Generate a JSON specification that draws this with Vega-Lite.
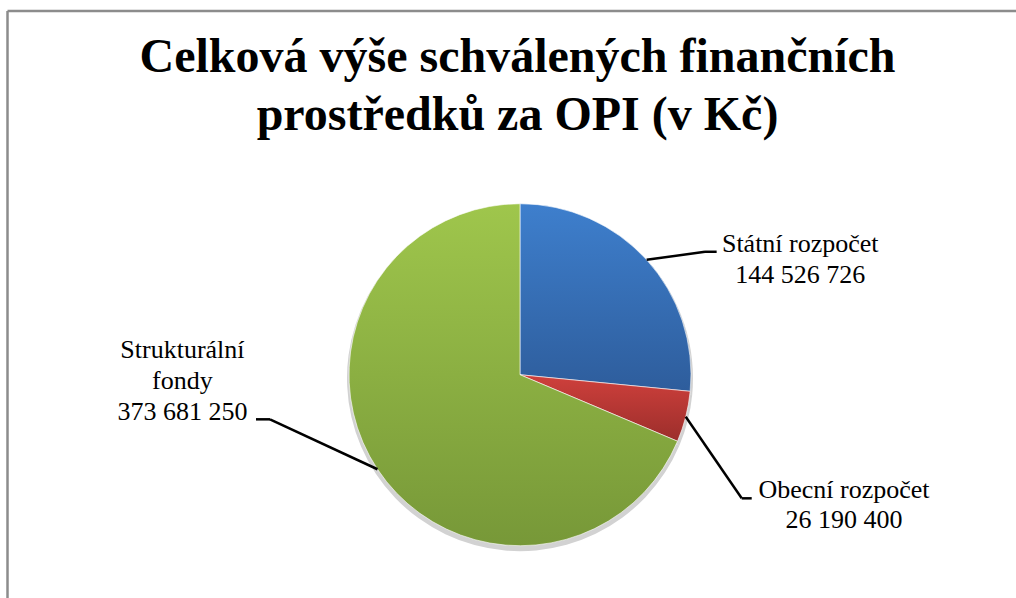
{
  "$schema": "https://vega.github.io/schema/vega-lite/v6.json",
  "width": 1009,
  "height": 587.5,
  "autosize": {"type": "none"},
  "padding": {"left": 7, "top": 10.5, "right": 0, "bottom": 0},
  "background": "#ffffff",
  "title": {
    "text": ["Celková výše schválených finančních", "prostředků za OPI (v Kč)"],
    "font": "Liberation Serif",
    "fontSize": 48,
    "fontWeight": "bold",
    "color": "#000000",
    "lineHeight": 58,
    "anchor": "middle",
    "frame": "group",
    "baseline": "alphabetic",
    "offset": -167,
    "dx": 6
  },
  "data": {
    "values": [
      {"category": "Státní rozpočet", "value": 144526726},
      {"category": "Obecní rozpočet", "value": 26190400},
      {"category": "Strukturální fondy", "value": 373681250}
    ]
  },
  "transform": [
    {"window": [{"op": "row_number", "as": "idx"}, {"op": "sum", "field": "value", "as": "cum"}], "frame": [null, 0]},
    {"joinaggregate": [{"op": "sum", "field": "value", "as": "total"}]},
    {"calculate": "2*PI*(datum.cum - datum.value/2)/datum.total", "as": "mid"},
    {"calculate": "sin(datum.mid)", "as": "sx"},
    {"calculate": "cos(datum.mid)", "as": "sy"},
    {"calculate": "replace(format(datum.value, ','), regexp(',', 'g'), ' ')", "as": "num"},
    {"calculate": "datum.category === 'Strukturální fondy' ? 'Strukturální|fondy|' + datum.num : datum.category + '|' + datum.num", "as": "label"}
  ],
  "layer": [
    {
      "mark": {"type": "arc", "outerRadius": 173, "color": "#d2d2d2"},
      "encoding": {
        "x": {"datum": 0, "type": "quantitative", "scale": {"type": "linear", "domain": [-3, 2.9006], "zero": false, "nice": false}, "axis": {"orient": "top", "title": null}},
        "y": {"datum": -0.02, "type": "quantitative", "scale": {"type": "linear", "domain": [-1.3057, 2.13], "zero": false, "nice": false}, "axis": {"orient": "left", "title": null}},
        "theta": {"field": "value", "type": "quantitative", "stack": true},
        "order": {"field": "idx", "type": "quantitative"},
        "detail": {"field": "category", "type": "nominal"}
      }
    },
    {
      "mark": {"type": "arc", "outerRadius": 171, "stroke": "#ffffff", "strokeWidth": 1, "strokeOpacity": 0.6},
      "encoding": {
        "x": {"datum": 0, "type": "quantitative", "scale": {"type": "linear", "domain": [-3, 2.9006], "zero": false, "nice": false}, "axis": {"orient": "top", "title": null}},
        "y": {"datum": 0, "type": "quantitative", "scale": {"type": "linear", "domain": [-1.3057, 2.13], "zero": false, "nice": false}, "axis": {"orient": "left", "title": null}},
        "theta": {"field": "value", "type": "quantitative", "stack": true},
        "order": {"field": "idx", "type": "quantitative"},
        "detail": {"field": "category", "type": "nominal"},
        "color": {
          "condition": [
            {"test": "datum.category === 'Státní rozpočet'", "value": {"gradient": "linear", "x1": 0, "y1": 0, "x2": 0, "y2": 1, "stops": [{"offset": 0, "color": "#3e7fcd"}, {"offset": 1, "color": "#2e5d9c"}]}},
            {"test": "datum.category === 'Obecní rozpočet'", "value": {"gradient": "linear", "x1": 0, "y1": 0, "x2": 0, "y2": 1, "stops": [{"offset": 0, "color": "#cf403c"}, {"offset": 1, "color": "#9c2e2b"}]}}
          ],
          "value": {"gradient": "linear", "x1": 0, "y1": 0, "x2": 0, "y2": 1, "stops": [{"offset": 0, "color": "#9fc64c"}, {"offset": 1, "color": "#779838"}]}
        }
      }
    },
    {
      "transform": [{"filter": "datum.category === 'Státní rozpočet'"}],
      "layer": [
        {
          "mark": {"type": "rule", "color": "#000000", "strokeWidth": 2.5},
          "encoding": {
            "x": {"field": "sx", "type": "quantitative", "scale": {"type": "linear", "domain": [-3, 2.9006], "zero": false, "nice": false}, "axis": {"orient": "top", "title": null}},
            "y": {"field": "sy", "type": "quantitative", "scale": {"type": "linear", "domain": [-1.3057, 2.13], "zero": false, "nice": false}, "axis": {"orient": "left", "title": null}},
            "x2": {"datum": 1.082},
            "y2": {"datum": 0.719}
          }
        },
        {
          "mark": {"type": "rule", "color": "#000000", "strokeWidth": 2.5},
          "encoding": {
            "x": {"datum": 1.082, "type": "quantitative", "scale": {"type": "linear", "domain": [-3, 2.9006], "zero": false, "nice": false}, "axis": {"orient": "top", "title": null}},
            "x2": {"datum": 1.15},
            "y": {"datum": 0.719, "type": "quantitative", "scale": {"type": "linear", "domain": [-1.3057, 2.13], "zero": false, "nice": false}, "axis": {"orient": "left", "title": null}}
          }
        },
        {
          "mark": {"type": "text", "font": "Liberation Serif", "fontSize": 26, "color": "#000000", "align": "center", "baseline": "alphabetic", "lineBreak": "|", "lineHeight": 31},
          "encoding": {
            "x": {"datum": 1.639, "type": "quantitative", "scale": {"type": "linear", "domain": [-3, 2.9006], "zero": false, "nice": false}, "axis": {"orient": "top", "title": null}},
            "y": {"datum": 0.719, "type": "quantitative", "scale": {"type": "linear", "domain": [-1.3057, 2.13], "zero": false, "nice": false}, "axis": {"orient": "left", "title": null}},
            "text": {"field": "label", "type": "nominal"}
          }
        }
      ]
    },
    {
      "transform": [{"filter": "datum.category === 'Obecní rozpočet'"}],
      "layer": [
        {
          "mark": {"type": "rule", "color": "#000000", "strokeWidth": 2.5},
          "encoding": {
            "x": {"field": "sx", "type": "quantitative", "scale": {"type": "linear", "domain": [-3, 2.9006], "zero": false, "nice": false}, "axis": {"orient": "top", "title": null}},
            "y": {"field": "sy", "type": "quantitative", "scale": {"type": "linear", "domain": [-1.3057, 2.13], "zero": false, "nice": false}, "axis": {"orient": "left", "title": null}},
            "x2": {"datum": 1.2965},
            "y2": {"datum": -0.7228}
          }
        },
        {
          "mark": {"type": "rule", "color": "#000000", "strokeWidth": 2.5},
          "encoding": {
            "x": {"datum": 1.2965, "type": "quantitative", "scale": {"type": "linear", "domain": [-3, 2.9006], "zero": false, "nice": false}, "axis": {"orient": "top", "title": null}},
            "x2": {"datum": 1.355},
            "y": {"datum": -0.7228, "type": "quantitative", "scale": {"type": "linear", "domain": [-1.3057, 2.13], "zero": false, "nice": false}, "axis": {"orient": "left", "title": null}}
          }
        },
        {
          "mark": {"type": "text", "font": "Liberation Serif", "fontSize": 26, "color": "#000000", "align": "center", "baseline": "alphabetic", "lineBreak": "|", "lineHeight": 30},
          "encoding": {
            "x": {"datum": 1.895, "type": "quantitative", "scale": {"type": "linear", "domain": [-3, 2.9006], "zero": false, "nice": false}, "axis": {"orient": "top", "title": null}},
            "y": {"datum": -0.7228, "type": "quantitative", "scale": {"type": "linear", "domain": [-1.3057, 2.13], "zero": false, "nice": false}, "axis": {"orient": "left", "title": null}},
            "text": {"field": "label", "type": "nominal"}
          }
        }
      ]
    },
    {
      "transform": [{"filter": "datum.category === 'Strukturální fondy'"}],
      "layer": [
        {
          "mark": {"type": "rule", "color": "#000000", "strokeWidth": 2.5},
          "encoding": {
            "x": {"field": "sx", "type": "quantitative", "scale": {"type": "linear", "domain": [-3, 2.9006], "zero": false, "nice": false}, "axis": {"orient": "top", "title": null}},
            "y": {"field": "sy", "type": "quantitative", "scale": {"type": "linear", "domain": [-1.3057, 2.13], "zero": false, "nice": false}, "axis": {"orient": "left", "title": null}},
            "x2": {"datum": -1.462},
            "y2": {"datum": -0.2608}
          }
        },
        {
          "mark": {"type": "rule", "color": "#000000", "strokeWidth": 2.5},
          "encoding": {
            "x": {"datum": -1.462, "type": "quantitative", "scale": {"type": "linear", "domain": [-3, 2.9006], "zero": false, "nice": false}, "axis": {"orient": "top", "title": null}},
            "x2": {"datum": -1.544},
            "y": {"datum": -0.2608, "type": "quantitative", "scale": {"type": "linear", "domain": [-1.3057, 2.13], "zero": false, "nice": false}, "axis": {"orient": "left", "title": null}}
          }
        },
        {
          "mark": {"type": "text", "font": "Liberation Serif", "fontSize": 26, "color": "#000000", "align": "center", "baseline": "alphabetic", "lineBreak": "|", "lineHeight": 31},
          "encoding": {
            "x": {"datum": -1.974, "type": "quantitative", "scale": {"type": "linear", "domain": [-3, 2.9006], "zero": false, "nice": false}, "axis": {"orient": "top", "title": null}},
            "y": {"datum": 0.1, "type": "quantitative", "scale": {"type": "linear", "domain": [-1.3057, 2.13], "zero": false, "nice": false}, "axis": {"orient": "left", "title": null}},
            "text": {"field": "label", "type": "nominal"}
          }
        }
      ]
    }
  ],
  "config": {
    "view": {"stroke": null},
    "axis": {"domainColor": "#8c8c8c", "domainWidth": 2.5, "ticks": false, "labels": false, "grid": false, "titleOpacity": 0}
  }
}
